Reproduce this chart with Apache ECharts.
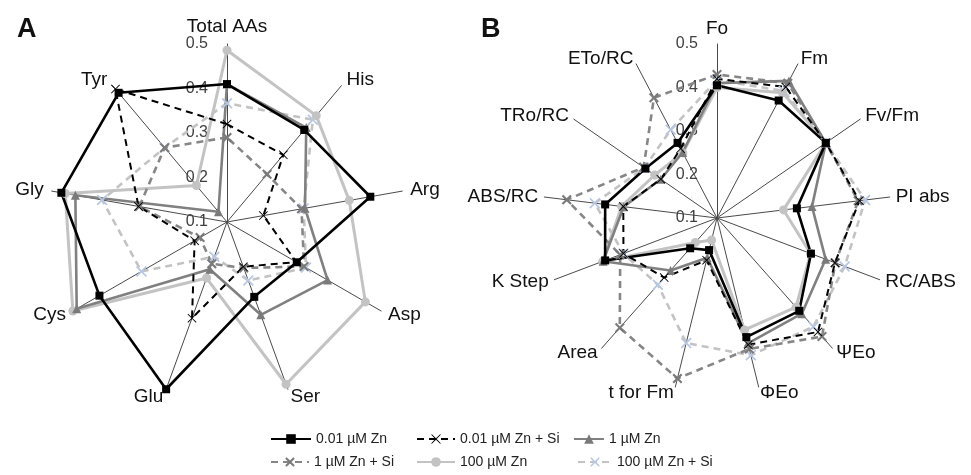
<!DOCTYPE html>
<html><head><meta charset="utf-8">
<script src="https://cdn.jsdelivr.net/npm/echarts@6/dist/echarts.min.js"></script>
<style>html,body{margin:0;padding:0;background:#fff}#c{width:971px;height:475px}</style>
</head><body><div id="c"></div>
<script>
// ---------- DATA ----------
const seriesNames = ['0.01 µM Zn', '0.01 µM Zn + Si', '1 µM Zn', '1 µM Zn + Si', '100 µM Zn', '100 µM Zn + Si'];
const tickMin = 0.1, tickMax = 0.5;

// Panel A: amino acids (clockwise from top)
const axesA = ['Total AAs', 'His', 'Arg', 'Asp', 'Ser', 'Glu', 'Cys', 'Gly', 'Tyr'];
const A_zn001   = [0.41, 0.37, 0.427, 0.281, 0.279, 0.50, 0.431, 0.478, 0.479];
const A_zn001Si = [0.32, 0.297, 0.183, 0.28, 0.207, 0.33, 0.184, 0.302, 0.49];
const A_zn1     = [0.41, 0.377, 0.278, 0.361, 0.322, 0.213, 0.49, 0.446, 0.13];
const A_zn1Si   = [0.29, 0.24, 0.27, 0.30, 0.21, 0.20, 0.17, 0.30, 0.318];
const A_zn100   = [0.486, 0.412, 0.379, 0.459, 0.488, 0.234, 0.50, 0.469, 0.207];
const A_zn100Si = [0.367, 0.40, 0.275, 0.305, 0.24, 0.183, 0.322, 0.385, 0.318];

// Panel B: chlorophyll fluorescence parameters (clockwise from top)
const axesB = ['Fo', 'Fm', 'Fv/Fm', 'PI abs', 'RC/ABS', 'ΨEo', 'ΦEo', 't for Fm', 'Area', 'K Step', 'ABS/RC', 'TRo/RC', 'ETo/RC'];
const B_zn001   = [0.405, 0.405, 0.404, 0.285, 0.331, 0.385, 0.382, 0.176, 0.193, 0.375, 0.359, 0.30, 0.295];
const B_zn001Si = [0.42, 0.44, 0.404, 0.43, 0.39, 0.45, 0.40, 0.20, 0.283, 0.33, 0.317, 0.257, 0.28];
const B_zn1     = [0.41, 0.456, 0.404, 0.32, 0.367, 0.394, 0.397, 0.194, 0.261, 0.38, 0.316, 0.257, 0.27];
const B_zn1Si   = [0.43, 0.45, 0.404, 0.427, 0.391, 0.464, 0.41, 0.48, 0.437, 0.338, 0.448, 0.305, 0.412];
const B_zn100   = [0.40, 0.425, 0.404, 0.254, 0.33, 0.374, 0.365, 0.152, 0.175, 0.381, 0.321, 0.274, 0.269];
const B_zn100Si = [0.417, 0.43, 0.404, 0.443, 0.414, 0.434, 0.425, 0.396, 0.305, 0.33, 0.383, 0.303, 0.329];

const dataA = [A_zn001, A_zn001Si, A_zn1, A_zn1Si, A_zn100, A_zn100Si];
const dataB = [B_zn001, B_zn001Si, B_zn1, B_zn1Si, B_zn100, B_zn100Si];

// ECharts radar runs counter-clockwise; reorder so axes run clockwise
function cw(arr) { return [arr[0]].concat(arr.slice(1).reverse()); }

// ---------- STYLES ----------
const X_THIN = 'path://M1.4,0L10,8.6L18.6,0L20,1.4L11.4,10L20,18.6L18.6,20L10,11.4L1.4,20L0,18.6L8.6,10L0,1.4Z';
const X_THICK = 'path://M3,0L10,7L17,0L20,3L13,10L20,17L17,20L10,13L3,20L0,17L7,10L0,3Z';
const X_MED = 'path://M2.2,0L10,7.8L17.8,0L20,2.2L12.2,10L20,17.8L17.8,20L10,12.2L2.2,20L0,17.8L7.8,10L0,2.2Z';
const styles = [
  {line: '#000000', type: 'solid', width: 2.6, symbol: 'rect', size: 8, mark: '#000000'},
  {line: '#000000', type: [7, 5], width: 2, symbol: X_THIN, size: 9, mark: '#000000'},
  {line: '#808080', type: 'solid', width: 2.6, symbol: 'triangle', size: 9, mark: '#7a7a7a'},
  {line: '#868686', type: [7, 5], width: 2.6, symbol: X_THICK, size: 10, mark: '#7a7a7a'},
  {line: '#c3c3c3', type: 'solid', width: 3, symbol: 'circle', size: 9, mark: '#c3c3c3'},
  {line: '#c3c3c3', type: [7, 5], width: 2.6, symbol: X_MED, size: 11, mark: '#b7c7e3'}
];
const drawOrder = [5, 4, 3, 2, 1, 0];

const FONT = 'Liberation Sans, Arial, sans-serif';

function indicators(names) {
  return cw(names).map((n, i) => {
    const o = {name: n, min: tickMin, max: tickMax};
    if (i === 0) o.axisLabel = {show: true};
    return o;
  });
}

function radarCfg(names, center, radius, gap) {
  return {
    indicator: indicators(names),
    center: center,
    radius: radius,
    startAngle: 90,
    splitNumber: 4,
    shape: 'polygon',
    nameGap: gap,
    axisName: {color: '#111', fontSize: 19, fontFamily: FONT},
    axisLine: {show: true, lineStyle: {color: '#4a4a4a', width: 1}},
    axisTick: {show: false},
    axisLabel: {show: false, color: '#404040', fontSize: 16, fontFamily: FONT, margin: 19},
    splitLine: {show: false},
    splitArea: {show: false}
  };
}

const series = [];
// hidden line series used only for legend icons (line + marker)
seriesNames.forEach((nm, k) => {
  const s = styles[k];
  series.push({
    type: 'line', name: nm, data: [], xAxisIndex: 0, yAxisIndex: 0,
    symbol: s.symbol, symbolSize: s.size,
    lineStyle: {color: s.line, width: s.width, type: s.type},
    itemStyle: {color: s.mark, borderWidth: 0}
  });
});
[dataA, dataB].forEach((set, ri) => {
  drawOrder.forEach(k => {
    const s = styles[k];
    series.push({
      type: 'radar', radarIndex: ri, name: seriesNames[k], z: 2,
      symbol: s.symbol, symbolSize: s.size,
      lineStyle: {color: s.line, width: s.width, type: s.type},
      itemStyle: {color: s.mark, borderWidth: 0},
      silent: true,
      data: [{name: seriesNames[k], value: cw(set[k])}]
    });
  });
});

const legendPos = [
  {left: 270, top: 432, w: 40}, {left: 416, top: 432, w: 38}, {left: 573, top: 432, w: 30},
  {left: 270, top: 455, w: 38}, {left: 416, top: 455, w: 38}, {left: 577, top: 455, w: 34}
];
const legends = seriesNames.map((nm, k) => ({
  data: [nm], left: legendPos[k].left, top: legendPos[k].top, padding: 0,
  itemWidth: legendPos[k].w, itemHeight: 12, itemGap: 0, selectedMode: false,
  textStyle: {fontSize: 14, color: '#222', fontFamily: FONT}
}));

const option = {
  animation: false,
  backgroundColor: '#fff',
  title: [
    {text: 'A', left: 12, top: 11, textStyle: {fontSize: 27, fontWeight: 'bold', color: '#111', fontFamily: FONT}},
    {text: 'B', left: 476, top: 11, textStyle: {fontSize: 27, fontWeight: 'bold', color: '#111', fontFamily: FONT}}
  ],
  grid: {show: false, left: 0, top: 0, width: 1, height: 1},
  xAxis: {show: false, type: 'category', data: []},
  yAxis: {show: false, type: 'value'},
  legend: legends,
  radar: [
    radarCfg(axesA, [227, 222], 178, 8),
    radarCfg(axesB, [717, 218], 174, 6)
  ],
  series: series
};
const chart = echarts.init(document.getElementById('c'), null, {renderer: 'canvas'});
chart.setOption(option);
</script></body></html>
